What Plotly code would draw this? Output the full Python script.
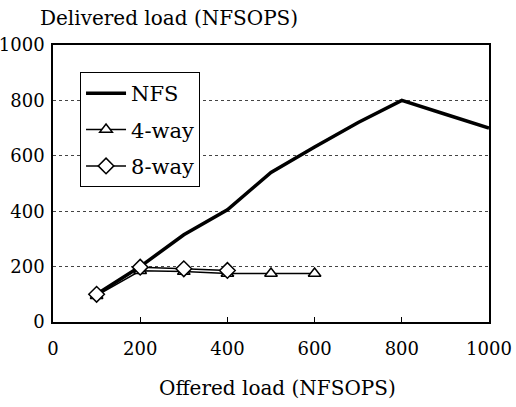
import plotly.graph_objects as go

offered = [100, 200, 300, 400, 500, 600, 700, 800, 900, 1000]
nfs = [100, 200, 315, 405, 540, 632, 720, 800, 750, 700]
x4 = [100, 200, 300, 400, 500, 600]
way4 = [95, 185, 182, 175, 175, 175]
x8 = [100, 200, 300, 400]
way8 = [100, 198, 192, 186]

xticks = [0, 200, 400, 600, 800, 1000]
yticks = [0, 200, 400, 600, 800, 1000]

FONT = "DejaVu Serif"

fig = go.Figure()
fig.add_trace(go.Scatter(x=offered, y=nfs, mode="lines", name="NFS", legendgroup="a",
                         line=dict(color="black", width=3.5)))
fig.add_trace(go.Scatter(x=x4, y=way4, mode="lines+markers", name="4-way", legendgroup="b",
                         line=dict(color="black", width=1.5),
                         marker=dict(symbol="triangle-up", size=11, color="white",
                                     line=dict(color="black", width=1.5))))
fig.add_trace(go.Scatter(x=x8, y=way8, mode="lines+markers", name="8-way", legendgroup="c",
                         line=dict(color="black", width=1.5),
                         marker=dict(symbol="diamond", size=12, color="white",
                                     line=dict(color="black", width=1.5))))

fig.update_layout(
    width=516, height=407,
    margin=dict(l=53, r=27, t=45, b=85, autoexpand=False),
    paper_bgcolor="white", plot_bgcolor="white",
    font=dict(family=FONT, size=18, color="black"),
    showlegend=True,
    legend=dict(x=0.062, y=0.902, xanchor="left", yanchor="top",
                bgcolor="white", bordercolor="black", borderwidth=1,
                font=dict(family=FONT, size=21), tracegroupgap=6,
                itemwidth=40),
    annotations=[
        dict(text="Delivered load (NFSOPS)", xref="paper", yref="paper",
             x=-0.035, y=1.0, yshift=27, xanchor="left", yanchor="middle",
             showarrow=False, font=dict(family=FONT, size=20)),
        dict(text="Offered load (NFSOPS)", xref="paper", yref="paper",
             x=0.514, y=0, yshift=-66, xanchor="center", yanchor="middle",
             showarrow=False, font=dict(family=FONT, size=20)),
    ],
)
fig.update_xaxes(range=[0, 1000], tickvals=xticks, ticktext=[str(v) for v in xticks],
                 showgrid=False, zeroline=False, showline=True, linecolor="black",
                 linewidth=1.5, mirror=True, ticks="inside", ticklen=5,
                 tickcolor="black", ticklabelstandoff=10, automargin=False)
fig.update_yaxes(range=[0, 1000], tickvals=yticks, ticktext=[str(v) for v in yticks],
                 showgrid=True, gridcolor="#444", griddash="dot", gridwidth=1,
                 zeroline=False, showline=True, linecolor="black",
                 linewidth=1.5, mirror=True, ticks="", ticklabelstandoff=3,
                 automargin=False)

fig.write_html("out.html")
